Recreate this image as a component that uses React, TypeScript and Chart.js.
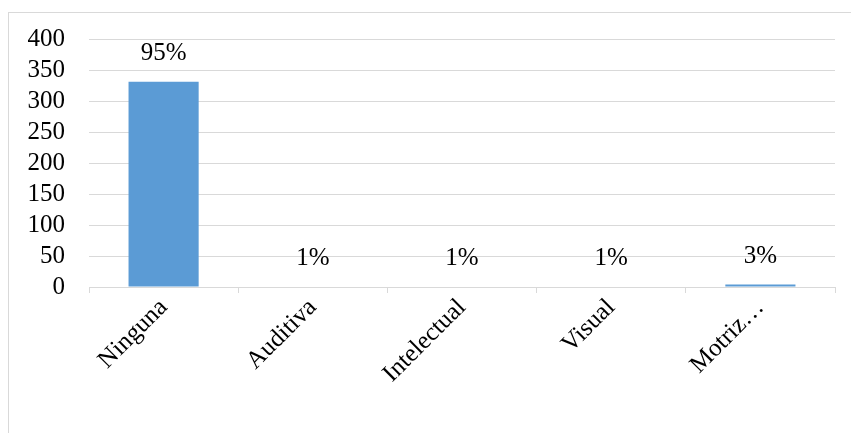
import React, { useEffect, useRef } from "react";
import { Chart, registerables } from "chart.js";

Chart.register(...registerables);

const categories = ["Ninguna", "Auditiva", "Intelectual", "Visual", "Motriz…"];
const counts = [331, 1, 1, 1, 4];
const percentLabels = ["95%", "1%", "1%", "1%", "3%"];
const yTicks = [0, 50, 100, 150, 200, 250, 300, 350, 400];

const FONT = "'Liberation Serif', 'Times New Roman', serif";
const FONT_SIZE = 25;
const GRID = "#d9d9d9";

// Writes the percentage above each bar
const percentLabelPlugin = {
  id: "percentLabels",
  afterDatasetsDraw(chart: any) {
    const { ctx } = chart;
    const meta = chart.getDatasetMeta(0);
    ctx.save();
    ctx.font = `${FONT_SIZE}px ${FONT}`;
    ctx.fillStyle = "#000";
    ctx.textAlign = "center";
    ctx.textBaseline = "middle";
    meta.data.forEach((bar: any, i: number) => {
      ctx.fillText(percentLabels[i], bar.x, bar.y - 28);
    });
    ctx.restore();
  },
};

function App() {
  const canvasRef = useRef<HTMLCanvasElement | null>(null);

  useEffect(() => {
    if (!canvasRef.current) return;
    const chart = new Chart(canvasRef.current, {
      type: "bar",
      data: {
        labels: categories,
        datasets: [
          {
            data: counts,
            backgroundColor: "#5b9bd5",
            barPercentage: 0.47,
            categoryPercentage: 1,
          },
        ],
      },
      options: {
        animation: false,
        responsive: false,
        maintainAspectRatio: false,
        layout: { padding: { left: 0, top: 34, right: 16, bottom: 0 } },
        plugins: {
          legend: { display: false },
          tooltip: { enabled: false },
        },
        scales: {
          x: {
            offset: true,
            grid: {
              offset: true,
              drawOnChartArea: false,
              drawTicks: true,
              tickLength: 6,
              color: GRID,
            },
            border: { display: true, color: GRID },
            ticks: {
              color: "#000",
              font: { family: FONT, size: FONT_SIZE },
              minRotation: 45,
              maxRotation: 45,
              autoSkip: false,
              padding: 0,
            },
            afterFit(scale: any) {
              scale.height = 146;
            },
          },
          y: {
            min: 0,
            max: 400,
            afterBuildTicks(scale: any) {
              scale.ticks = yTicks.map((v) => ({ value: v }));
            },
            grid: { drawTicks: false, color: GRID },
            border: { display: false },
            ticks: {
              color: "#000",
              font: { family: FONT, size: FONT_SIZE },
              padding: 24,
              autoSkip: false,
            },
            afterFit(scale: any) {
              scale.width = 89;
            },
          },
        },
      },
      plugins: [percentLabelPlugin],
    });
    return () => chart.destroy();
  }, []);

  return (
    <div style={{ position: "absolute", left: 0, top: 0, width: 851, height: 433, overflow: "hidden", background: "#fff" }}>
      <div
        style={{
          position: "absolute",
          left: 8,
          top: 12,
          width: 900,
          height: 420,
          borderTop: `1px solid ${GRID}`,
          borderLeft: `1px solid ${GRID}`,
        }}
      />
      <canvas
        ref={canvasRef}
        width={851}
        height={433}
        style={{ position: "absolute", left: 0, top: 0, width: 851, height: 433 }}
      />
    </div>
  );
}

export default App;
